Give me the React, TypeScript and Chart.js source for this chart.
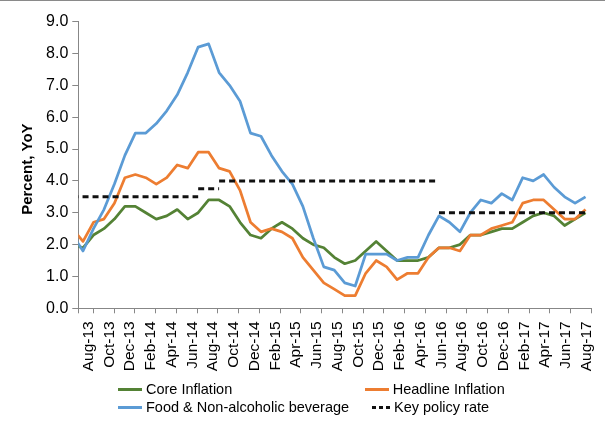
import React, { useEffect, useRef } from 'react';
import { Chart, registerables } from 'chart.js';

Chart.register(...registerables);

// Monthly observations, Jul-13 .. Aug-17 (the Jul-13 value only shows as the stub at the axis)
const months = [
  'Jul-13', 'Aug-13', 'Sep-13', 'Oct-13', 'Nov-13', 'Dec-13',
  'Jan-14', 'Feb-14', 'Mar-14', 'Apr-14', 'May-14', 'Jun-14', 'Jul-14', 'Aug-14', 'Sep-14', 'Oct-14', 'Nov-14', 'Dec-14',
  'Jan-15', 'Feb-15', 'Mar-15', 'Apr-15', 'May-15', 'Jun-15', 'Jul-15', 'Aug-15', 'Sep-15', 'Oct-15', 'Nov-15', 'Dec-15',
  'Jan-16', 'Feb-16', 'Mar-16', 'Apr-16', 'May-16', 'Jun-16', 'Jul-16', 'Aug-16', 'Sep-16', 'Oct-16', 'Nov-16', 'Dec-16',
  'Jan-17', 'Feb-17', 'Mar-17', 'Apr-17', 'May-17', 'Jun-17', 'Jul-17', 'Aug-17',
];

const tickLabels = [
  'Aug-13', 'Oct-13', 'Dec-13', 'Feb-14', 'Apr-14', 'Jun-14', 'Aug-14', 'Oct-14', 'Dec-14',
  'Feb-15', 'Apr-15', 'Jun-15', 'Aug-15', 'Oct-15', 'Dec-15', 'Feb-16', 'Apr-16', 'Jun-16',
  'Aug-16', 'Oct-16', 'Dec-16', 'Feb-17', 'Apr-17', 'Jun-17', 'Aug-17',
];

const coreInflation = [
  2.0, 1.9, 2.3, 2.5, 2.8, 3.2,
  3.2, 3.0, 2.8, 2.9, 3.1, 2.8, 3.0, 3.4, 3.4, 3.2, 2.7, 2.3,
  2.2, 2.5, 2.7, 2.5, 2.2, 2.0, 1.9, 1.6, 1.4, 1.5, 1.8, 2.1,
  1.8, 1.5, 1.5, 1.5, 1.6, 1.9, 1.9, 2.0, 2.3, 2.3, 2.4, 2.5,
  2.5, 2.7, 2.9, 3.0, 2.9, 2.6, 2.8, 3.0,
];

const headlineInflation = [
  2.5, 2.1, 2.7, 2.8, 3.3, 4.1,
  4.2, 4.1, 3.9, 4.1, 4.5, 4.4, 4.9, 4.9, 4.4, 4.3, 3.7, 2.7,
  2.4, 2.5, 2.4, 2.2, 1.6, 1.2, 0.8, 0.6, 0.4, 0.4, 1.1, 1.5,
  1.3, 0.9, 1.1, 1.1, 1.6, 1.9, 1.9, 1.8, 2.3, 2.3, 2.5, 2.6,
  2.7, 3.3, 3.4, 3.4, 3.1, 2.8, 2.8, 3.1,
];

const foodInflation = [
  2.3, 1.8, 2.5, 3.1, 3.9, 4.8,
  5.5, 5.5, 5.8, 6.2, 6.7, 7.4, 8.2, 8.3, 7.4, 7.0, 6.5, 5.5,
  5.4, 4.8, 4.3, 3.9, 3.2, 2.2, 1.3, 1.2, 0.8, 0.7, 1.7, 1.7,
  1.7, 1.5, 1.6, 1.6, 2.3, 2.9, 2.7, 2.4, 3.0, 3.4, 3.3, 3.6,
  3.4, 4.1, 4.0, 4.2, 3.8, 3.5, 3.3, 3.5,
];

const keyPolicyRate = [
  3.5, 3.5, 3.5, 3.5, 3.5, 3.5,
  3.5, 3.5, 3.5, 3.5, 3.5, 3.5, 3.75, 3.75, 4.0, 4.0, 4.0, 4.0,
  4.0, 4.0, 4.0, 4.0, 4.0, 4.0, 4.0, 4.0, 4.0, 4.0, 4.0, 4.0,
  4.0, 4.0, 4.0, 4.0, 4.0, 3.0, 3.0, 3.0, 3.0, 3.0, 3.0, 3.0,
  3.0, 3.0, 3.0, 3.0, 3.0, 3.0, 3.0, 3.0,
];

const seriesNames = ['Core Inflation', 'Headline Inflation', 'Food & Non-alcoholic beverage', 'Key policy rate'];
const seriesColors = ['#548235', '#ED7D31', '#5B9BD5', '#111111'];

const FIRST_SHOWN = months.indexOf('Aug-13');
const X_MIN = -0.45;
const X_MAX = 48.57;

const FONT = "'Liberation Sans', Arial, sans-serif";
const AXIS_GREY = '#878787';

export default function App() {
  const canvasRef = useRef<HTMLCanvasElement>(null);

  useEffect(() => {
    const canvas = canvasRef.current;
    if (!canvas) return;

    const toPoints = (vals: number[]) => vals.map((v, j) => ({ x: j - FIRST_SHOWN, y: v }));

    const policyPoints: { x: number; y: number | null }[] = [];
    keyPolicyRate.forEach((v, j) => {
      const x = j - FIRST_SHOWN;
      policyPoints.push({ x, y: v });
      const next = keyPolicyRate[j + 1];
      if (next !== undefined && next !== v) {
        policyPoints.push({ x: x + 1, y: v });
        policyPoints.push({ x: x + 1, y: null });
      }
    });

    const nTicks = tickLabels.length;
    const tickValues = [X_MIN];
    for (let k = 0; k < nTicks; k++) tickValues.push(1 + (k * (X_MAX - 1)) / (nTicks - 1));

    const lineBase = {
      pointRadius: 0,
      borderWidth: 2.75,
      tension: 0,
      fill: false,
      borderJoinStyle: 'round' as const,
      spanGaps: false,
    };

    const chart = new Chart(canvas, {
      type: 'line',
      data: {
        datasets: [
          { ...lineBase, label: seriesNames[0], data: toPoints(coreInflation), borderColor: seriesColors[0], order: 3 },
          { ...lineBase, label: seriesNames[1], data: toPoints(headlineInflation), borderColor: seriesColors[1], order: 2 },
          { ...lineBase, label: seriesNames[2], data: toPoints(foodInflation), borderColor: seriesColors[2], order: 1 },
          {
            ...lineBase,
            label: seriesNames[3],
            data: policyPoints as any,
            borderColor: seriesColors[3],
            borderWidth: 3,
            borderDash: [6, 4],
            borderJoinStyle: 'miter' as const,
            order: 0,
          },
        ],
      },
      options: {
        animation: false,
        responsive: false,
        devicePixelRatio: 1,
        layout: { padding: { left: 0, top: 21.6, right: 13.5, bottom: 0 } },
        plugins: {
          legend: { display: false },
          tooltip: { enabled: false },
        },
        scales: {
          x: {
            type: 'linear',
            min: X_MIN,
            max: X_MAX,
            offset: false,
            afterBuildTicks: (scale: any) => {
              scale.ticks = tickValues.map((value) => ({ value }));
            },
            afterFit: (scale: any) => {
              scale.height = 429 - 308.3;
              scale.paddingLeft = 0;
              scale.paddingRight = 0;
            },
            ticks: {
              autoSkip: false,
              minRotation: 90,
              maxRotation: 90,
              labelOffset: -5,
              padding: 8,
              color: '#000',
              font: { family: FONT, size: 15.5 },
              callback: (_value: any, index: number) => (index === 0 ? '' : tickLabels[index - 1]),
            },
            grid: {
              drawOnChartArea: false,
              drawTicks: true,
              tickLength: 5,
              color: AXIS_GREY,
              tickColor: AXIS_GREY,
            },
            border: { display: true, color: AXIS_GREY, width: 1 },
          },
          y: {
            min: 0,
            max: 9,
            afterFit: (scale: any) => {
              scale.width = 78.3;
            },
            ticks: {
              stepSize: 1,
              padding: 4,
              color: '#000',
              font: { family: FONT, size: 16 },
              callback: (v: any) => Number(v).toFixed(1),
            },
            grid: {
              drawOnChartArea: false,
              drawTicks: true,
              tickLength: 6,
              color: AXIS_GREY,
              tickColor: AXIS_GREY,
            },
            border: { display: true, color: AXIS_GREY, width: 1 },
            title: {
              display: true,
              text: 'Percent, YoY\u00a0\u00a0',
              color: '#000',
              font: { family: FONT, size: 15, weight: 'bold' },
              padding: { top: 19, bottom: 0 },
            },
          },
        },
      },
    });

    return () => chart.destroy();
  }, []);

  const legendText: React.CSSProperties = {
    position: 'absolute',
    fontFamily: FONT,
    fontSize: '14.5px',
    lineHeight: '18px',
    color: '#000',
    whiteSpace: 'nowrap',
  };

  const sample = (left: number, top: number, width: number, color: string): React.CSSProperties => ({
    position: 'absolute',
    left,
    top: top - 1.5,
    width,
    height: 3,
    background: color,
  });

  return (
    <div style={{ position: 'absolute', left: 0, top: 0, width: 605, height: 429, background: '#fff', overflow: 'hidden' }}>
      <canvas ref={canvasRef} width={605} height={429} style={{ position: 'absolute', left: 0, top: 0, width: 605, height: 429 }} />
      <div style={{ position: 'absolute', left: 0, top: 0, width: 605, height: 1, background: '#8a8a8a' }} />

      <div style={sample(118, 389, 23.5, seriesColors[0])} />
      <div style={{ ...legendText, left: 146, top: 380 }}>{seriesNames[0]}</div>

      <div style={sample(365, 389, 24, seriesColors[1])} />
      <div style={{ ...legendText, left: 392.7, top: 380 }}>{seriesNames[1]}</div>

      <div style={sample(118, 407.3, 23.5, seriesColors[2])} />
      <div style={{ ...legendText, left: 146, top: 398.3 }}>{seriesNames[2]}</div>

      <svg style={{ position: 'absolute', left: 372, top: 405.8 }} width={19} height={3}>
        <line x1={0} y1={1.5} x2={19} y2={1.5} stroke={seriesColors[3]} strokeWidth={3} strokeDasharray="4 3" />
      </svg>
      <div style={{ ...legendText, left: 394, top: 398.3 }}>{seriesNames[3]}</div>
    </div>
  );
}
